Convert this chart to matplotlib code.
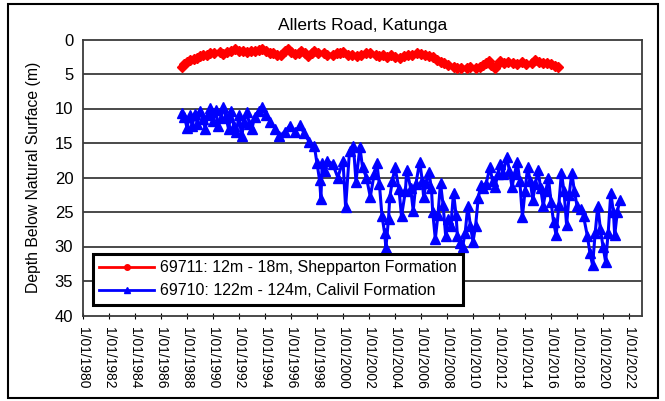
import matplotlib.pyplot as plt
import numpy as np
from matplotlib.lines import Line2D
from matplotlib.patches import Rectangle

plt.rcParams['font.family'] = ['Liberation Sans', 'DejaVu Sans']

# 69711: 12m - 18m, Shepparton Formation (decimal year, depth m)
red_year = [1987.6, 1987.8, 1988.0, 1988.2, 1988.5, 1988.8, 1989.0, 1989.2, 1989.5, 1989.8,
            1990.1, 1990.5, 1990.8, 1991.1, 1991.4, 1991.7, 1992.0, 1992.3, 1992.6, 1992.9,
            1993.2, 1993.5, 1993.8, 1994.1, 1994.4, 1994.6, 1994.9, 1995.2, 1995.5, 1995.8,
            1996.0, 1996.3, 1996.6, 1996.8, 1997.1, 1997.3, 1997.6, 1997.8, 1998.1, 1998.5,
            1998.8, 1999.2, 1999.5, 1999.8, 2000.0, 2000.4, 2000.7, 2001.1, 2001.4, 2001.8,
            2002.1, 2002.5, 2002.8, 2003.1, 2003.4, 2003.7, 2004.0, 2004.4, 2004.7, 2005.0,
            2005.3, 2005.7, 2006.0, 2006.3, 2006.6, 2006.9, 2007.2, 2007.5, 2007.8, 2008.1,
            2008.5, 2008.8, 2009.1, 2009.5, 2009.8, 2010.2, 2010.5, 2010.8, 2011.0, 2011.2,
            2011.4, 2011.7, 2011.9, 2012.1, 2012.4, 2012.7, 2013.1, 2013.4, 2013.8, 2014.1,
            2014.5, 2014.8, 2015.1, 2015.4, 2015.7, 2016.0, 2016.3, 2016.5]
red_depth = [4.0, 3.6, 3.3, 3.0, 2.8, 2.7, 2.4, 2.2, 2.3, 2.0,
             1.9, 1.8, 2.1, 1.8, 1.6, 1.4, 1.7, 1.6, 1.8, 1.6,
             1.7, 1.5, 1.4, 1.7, 1.9, 2.0, 2.2, 2.2, 1.6, 1.4,
             1.8, 2.1, 1.9, 1.7, 2.0, 2.4, 2.0, 1.7, 1.9, 2.0,
             2.3, 2.2, 1.9, 2.0, 1.8, 2.2, 2.3, 2.4, 2.2, 2.0,
             2.0, 2.3, 2.4, 2.3, 2.5, 2.2, 2.6, 2.7, 2.4, 2.3,
             2.2, 2.0, 2.1, 2.3, 2.4, 2.5, 2.9, 3.3, 3.4, 3.7,
             4.0, 4.1, 4.2, 4.1, 4.0, 4.1, 4.0, 3.7, 3.4, 3.1,
             3.7, 4.1, 3.6, 3.1, 3.4, 3.3, 3.4, 3.6, 3.3, 3.5,
             3.4, 3.0, 3.3, 3.4, 3.4, 3.6, 3.8, 4.0]

# 69710: 122m - 124m, Calivil Formation
blue_year = [1987.6, 1987.8, 1988.0, 1988.2, 1988.4, 1988.6, 1988.8, 1989.0, 1989.2, 1989.4,
             1989.6, 1989.8, 1990.0, 1990.2, 1990.4, 1990.6, 1990.8, 1991.0, 1991.2, 1991.4,
             1991.6, 1991.8, 1992.0, 1992.2, 1992.4, 1992.6, 1992.8, 1993.0, 1993.2, 1993.5,
             1993.8, 1994.1, 1994.4, 1994.8, 1995.1, 1995.5, 1995.9, 1996.3, 1996.7, 1997.0,
             1997.4, 1997.8, 1998.0, 1998.2, 1998.3, 1998.4, 1998.6, 1998.8, 1999.2, 1999.6,
             2000.0, 2000.2, 2000.5, 2000.8, 2001.0, 2001.3, 2001.5, 2001.8, 2002.1, 2002.4,
             2002.6, 2002.8, 2003.0, 2003.2, 2003.3, 2003.5, 2003.6, 2003.8, 2004.0, 2004.3,
             2004.5, 2004.8, 2004.9, 2005.2, 2005.4, 2005.6, 2005.9, 2006.1, 2006.2, 2006.4,
             2006.6, 2006.8, 2006.9, 2007.1, 2007.3, 2007.5, 2007.7, 2007.9, 2008.1, 2008.3,
             2008.5, 2008.7, 2008.8, 2009.0, 2009.2, 2009.4, 2009.6, 2009.8, 2010.0, 2010.2,
             2010.4, 2010.6, 2010.8, 2011.0, 2011.3, 2011.5, 2011.7, 2011.9, 2012.1, 2012.3,
             2012.6, 2012.8, 2013.0, 2013.2, 2013.4, 2013.6, 2013.8, 2014.0, 2014.2, 2014.4,
             2014.6, 2014.8, 2015.0, 2015.2, 2015.4, 2015.6, 2015.8, 2016.0, 2016.2, 2016.4,
             2016.6, 2016.8, 2017.0, 2017.2, 2017.4, 2017.6, 2017.8, 2018.0, 2018.3, 2018.5,
             2018.8, 2019.0, 2019.2, 2019.4, 2019.6, 2019.8, 2020.0, 2020.2, 2020.4, 2020.6,
             2020.8, 2020.9, 2021.1, 2021.3]
blue_depth = [10.6, 11.2, 12.8, 11.0, 12.5, 10.8, 12.2, 10.3, 11.5, 12.9,
              10.9, 9.9, 11.8, 10.2, 12.5, 11.4, 9.8, 11.3, 13.0, 10.4,
              12.6, 13.4, 11.0, 14.0, 12.0, 10.5, 12.2, 12.9, 11.2, 10.3,
              9.8, 10.9, 11.9, 12.9, 14.0, 13.4, 12.5, 13.4, 12.4, 13.6,
              14.8, 15.5, 17.9, 20.4, 23.1, 17.9, 19.0, 17.6, 18.0, 20.0,
              17.6, 24.3, 16.2, 15.4, 20.6, 15.6, 18.5, 20.0, 22.8, 19.5,
              17.9, 21.0, 25.6, 28.0, 30.2, 26.0, 22.8, 20.5, 18.5, 21.6,
              25.6, 22.0, 18.9, 21.5, 24.8, 21.0, 17.7, 20.5, 22.8, 20.8,
              19.2, 21.5, 25.0, 28.9, 25.5, 20.8, 24.0, 28.5, 26.0, 27.0,
              22.2, 25.5, 28.5, 29.5, 30.0, 28.0, 24.1, 27.0, 29.3, 27.0,
              23.0, 21.1, 21.5, 21.0, 18.5, 20.5, 21.4, 19.5, 18.0, 19.5,
              17.0, 19.0, 21.4, 19.5, 17.7, 20.5, 25.7, 22.0, 18.5, 20.5,
              23.2, 21.0, 18.9, 21.5, 24.1, 22.0, 20.0, 23.5, 26.5, 28.4,
              24.0, 19.3, 22.0, 26.9, 22.5, 19.3, 22.0, 24.1, 24.5, 25.6,
              28.5, 31.0, 32.7, 28.0, 24.1, 27.5, 30.0, 32.2, 28.0, 22.2,
              25.0, 28.4, 25.0, 23.2]

red_label = '69711: 12m - 18m, Shepparton Formation'
blue_label = '69710: 122m - 124m, Calivil Formation'

tick_years = list(range(1980, 2023, 2))
tick_labels = ['1/01/%d' % y for y in tick_years]
depth_ticks = list(range(0, 41, 5))

fig = plt.figure(figsize=(6.65, 4.01), dpi=100)
ax = fig.add_axes([83/665, 1-315.5/401, (642-83)/665, (315.5-39.5)/401])

gridcol = '#3a3a3a'
for d in depth_ticks[1:-1]:
    ax.axhline(d, color=gridcol, lw=1.3, zorder=1)

ax.plot(red_year, red_depth, '-', color='#ff0000', lw=3.2, marker='D', ms=5,
        mec='#ff0000', zorder=3)
ax.plot(blue_year, blue_depth, '-', color='#0000ff', lw=2.2, marker='^', ms=6.5,
        mec='#0000ff', zorder=3)

ax.set_xlim(1980, 2023)
ax.set_ylim(40, 0)
ax.set_yticks(depth_ticks)
ax.set_xticks(tick_years)
ax.set_xticklabels(tick_labels, rotation=270, fontsize=10)
ax.tick_params(axis='x', direction='inout', length=5, color='black', pad=6)
ax.tick_params(axis='y', length=0, labelsize=12, pad=7)
for s in ax.spines.values():
    s.set_color(gridcol)
    s.set_linewidth(1.3)

ax.set_title('Allerts Road, Katunga', fontsize=12.5, pad=7)
ax.set_ylabel('Depth Below Natural Surface (m)', fontsize=11.3, labelpad=10)

handles = [Line2D([], [], color='#ff0000', lw=2, marker='o', ms=4),
           Line2D([], [], color='#0000ff', lw=2, marker='^', ms=5)]
leg = ax.legend(handles, [red_label, blue_label], loc='lower left',
                bbox_to_anchor=(10/559, 11/276), borderaxespad=0, fontsize=11.5,
                frameon=True, fancybox=False, edgecolor='black', framealpha=1,
                handlelength=3.4, borderpad=0.4, labelspacing=0.5, handletextpad=0.4)
leg.get_frame().set_linewidth(2.2)

fig.patches.append(Rectangle((0.012, 0.008), 0.978, 0.982, transform=fig.transFigure,
                             fill=False, edgecolor='black', lw=1.5))

plt.savefig('out.png', dpi=100)
